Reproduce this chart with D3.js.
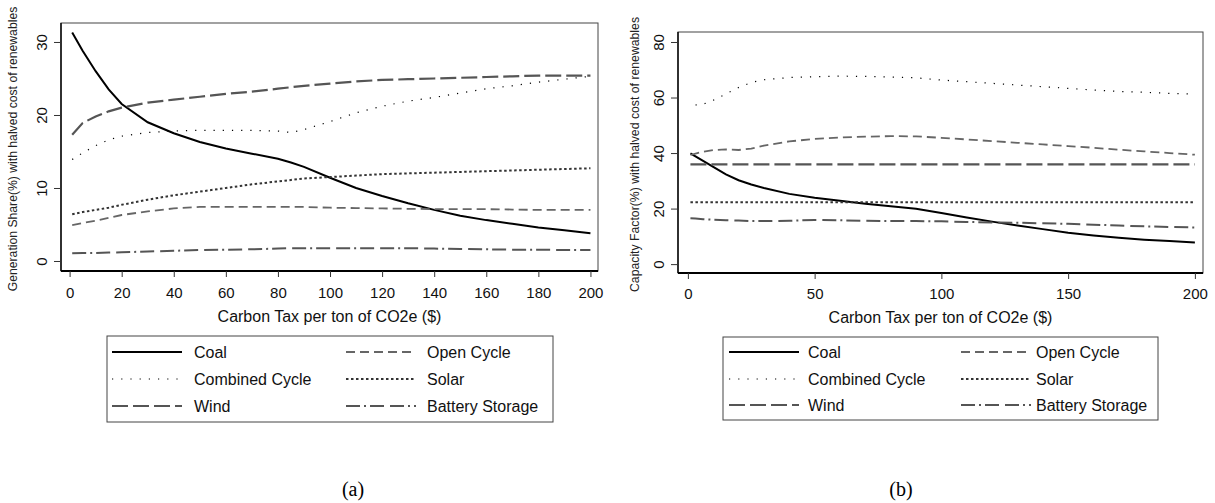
<!DOCTYPE html>
<html>
<head>
<meta charset="utf-8">
<script src="https://cdn.jsdelivr.net/npm/d3@7"></script>
<style>
  body { margin: 0; background: #fff; }
  svg { display: block; font-family: "Liberation Sans", Arial, sans-serif; }
</style>
</head>
<body>
<svg id="chart" width="1215" height="503"></svg>
<script>
// ---- data ----
var taxA = [1, 5, 10, 15, 20, 30, 40, 50, 60, 70, 80, 85, 90, 100, 110, 120, 130, 140, 150, 160, 170, 180, 190, 200];
var coalA     = [31.3, 28.8, 26.0, 23.5, 21.5, 19.0, 17.5, 16.3, 15.4, 14.7, 14.0, 13.5, 12.9, 11.4, 10.0, 8.9, 7.9, 7.0, 6.2, 5.6, 5.1, 4.6, 4.2, 3.8];
var openA     = [4.9, 5.2, 5.5, 5.9, 6.3, 6.8, 7.2, 7.4, 7.4, 7.4, 7.4, 7.4, 7.4, 7.3, 7.25, 7.2, 7.15, 7.1, 7.1, 7.1, 7.05, 7.0, 7.0, 7.0];
var combinedA = [13.9, 14.8, 15.8, 16.6, 17.1, 17.6, 17.8, 17.9, 17.9, 17.9, 17.8, 17.6, 18.0, 19.1, 20.3, 21.2, 21.9, 22.4, 23.0, 23.6, 24.0, 24.5, 24.9, 25.3];
var solarA    = [6.4, 6.7, 7.0, 7.3, 7.7, 8.4, 9.0, 9.5, 10.0, 10.5, 10.9, 11.1, 11.3, 11.5, 11.7, 11.9, 12.0, 12.1, 12.2, 12.3, 12.4, 12.5, 12.6, 12.7];
var windA     = [17.3, 18.9, 19.8, 20.5, 21.0, 21.7, 22.1, 22.5, 22.9, 23.2, 23.6, 23.8, 24.0, 24.3, 24.6, 24.8, 24.9, 25.0, 25.1, 25.2, 25.3, 25.4, 25.4, 25.4];
var batteryA  = [1.05, 1.1, 1.1, 1.15, 1.2, 1.3, 1.4, 1.5, 1.55, 1.6, 1.7, 1.75, 1.75, 1.75, 1.75, 1.75, 1.75, 1.7, 1.65, 1.6, 1.55, 1.55, 1.5, 1.5];

var taxB = [1, 3, 6, 10, 15, 20, 25, 30, 40, 50, 60, 70, 80, 90, 100, 110, 120, 130, 140, 150, 160, 170, 180, 190, 200];
var coalB     = [39.9, 38.8, 37.2, 35.0, 32.3, 30.2, 28.7, 27.4, 25.3, 23.9, 22.8, 21.7, 20.8, 19.9, 18.4, 16.8, 15.3, 13.9, 12.6, 11.3, 10.3, 9.5, 8.8, 8.3, 7.8];
var openB     = [39.3, 39.8, 40.5, 41.1, 41.3, 41.1, 41.6, 42.7, 44.2, 45.1, 45.6, 45.9, 46.1, 46.0, 45.5, 44.9, 44.3, 43.7, 43.1, 42.5, 41.9, 41.2, 40.6, 40.0, 39.4];
var combinedB = [null, 57.3, 57.6, 59.0, 61.3, 63.6, 65.4, 66.4, 67.2, 67.5, 67.7, 67.6, 67.4, 67.1, 66.3, 65.7, 65.1, 64.5, 63.9, 63.3, 62.7, 62.2, 61.9, 61.5, 61.2];
var solarB    = [22.3, 22.3, 22.3, 22.3, 22.3, 22.3, 22.3, 22.3, 22.3, 22.3, 22.3, 22.3, 22.3, 22.3, 22.3, 22.3, 22.3, 22.3, 22.3, 22.3, 22.3, 22.3, 22.3, 22.3, 22.3];
var windB     = [35.9, 35.9, 35.9, 35.9, 35.9, 35.9, 35.9, 35.9, 35.9, 35.9, 35.9, 35.9, 35.9, 35.9, 35.9, 35.9, 35.9, 35.9, 35.9, 35.9, 35.9, 35.9, 35.9, 35.9, 35.9];
var batteryB  = [16.5, 16.4, 16.2, 16.0, 15.8, 15.7, 15.5, 15.5, 15.6, 15.9, 15.8, 15.6, 15.5, 15.5, 15.4, 15.2, 15.0, 14.9, 14.7, 14.5, 14.2, 13.9, 13.6, 13.4, 13.2];

var seriesNames = ["Coal", "Open Cycle", "Combined Cycle", "Solar", "Wind", "Battery Storage"];
var xTicksA = [0, 20, 40, 60, 80, 100, 120, 140, 160, 180, 200];
var yTicksA = [0, 10, 20, 30];
var xTicksB = [0, 50, 100, 150, 200];
var yTicksB = [0, 20, 40, 60, 80];

// line looks, same order as seriesNames
var styles = [
  {stroke: "#000", width: 2,   dash: null},
  {stroke: "#666", width: 1.8, dash: "9,5"},
  {stroke: "#000", width: 1.2, dash: "1.2,8"},
  {stroke: "#333", width: 2,   dash: "2.5,2.5"},
  {stroke: "#555", width: 2.2, dash: "16,5"},
  {stroke: "#555", width: 2,   dash: "14,4,2,4,14,6"}
];

var svg = d3.select("#chart");

var panels = [
  {
    tax: taxA, values: [coalA, openA, combinedA, solarA, windA, batteryA],
    box: {x0: 61, x1: 598, y0: 23, y1: 271},
    xDom: [-3.3, 202.9], yDom: [-1.37, 32.6],
    xTicks: xTicksA, yTicks: yTicksA,
    yTitle: "Generation Share(%) with halved cost of renewables", yTitleX: 13, yTitleSize: 12.2,
    tickY: 26.5, titleY: 322,
    legend: {x0: 107, x1: 553, y0: 336, y1: 422, s1: 112, t1: 194, s2: 346, t2: 427, rows: [352, 379, 406]},
    tag: "(a)", tagX: 353
  },
  {
    tax: taxB, values: [coalB, openB, combinedB, solarB, windB, batteryB],
    box: {x0: 678, x1: 1203, y0: 32, y1: 273},
    xDom: [-3.9, 203.2], yDom: [-3.2, 83.6],
    xTicks: xTicksB, yTicks: yTicksB,
    yTitle: "Capacity Factor(%) with halved cost of renewables", yTitleX: 635, yTitleSize: 12.25,
    tickY: 25.5, titleY: 323,
    legend: {x0: 723, x1: 1158, y0: 337, y1: 420, s1: 729, t1: 808, s2: 961, t2: 1036, rows: [352, 379, 405]},
    tag: "(b)", tagX: 901
  }
];

panels.forEach(function(p) {
  var b = p.box;
  var sx = d3.scaleLinear().domain(p.xDom).range([b.x0, b.x1]);
  var sy = d3.scaleLinear().domain(p.yDom).range([b.y1, b.y0]);

  // plot frame
  svg.append("rect")
    .attr("x", b.x0).attr("y", b.y0)
    .attr("width", b.x1 - b.x0).attr("height", b.y1 - b.y0)
    .attr("fill", "none").attr("stroke", "#444").attr("stroke-width", 1);

  // lines
  var line = d3.line()
    .defined(function(d) { return d[1] != null; })
    .x(function(d) { return sx(d[0]); })
    .y(function(d) { return sy(d[1]); });

  p.values.forEach(function(vals, i) {
    var st = styles[i];
    var pts = p.tax.map(function(t, j) { return [t, vals[j]]; });
    svg.append("path")
      .datum(pts)
      .attr("fill", "none")
      .attr("stroke", st.stroke)
      .attr("stroke-width", st.width)
      .attr("stroke-dasharray", st.dash)
      .attr("d", line);
  });

  // x axis
  var gx = svg.append("g")
    .attr("transform", "translate(0," + b.y1 + ")")
    .call(d3.axisBottom(sx).tickValues(p.xTicks).tickSize(6).tickFormat(d3.format("d")));
  gx.select(".domain").attr("stroke", "#000").attr("stroke-width", 2.2)
    .attr("d", "M" + b.x0 + ",0H" + b.x1);
  gx.selectAll(".tick line").attr("stroke", "#333");
  gx.selectAll(".tick text")
    .attr("y", p.tickY).attr("dy", null)
    .attr("font-size", 15).attr("fill", "#111");

  // y axis
  var gy = svg.append("g")
    .attr("transform", "translate(" + b.x0 + ",0)")
    .call(d3.axisLeft(sy).tickValues(p.yTicks).tickSize(7).tickFormat(d3.format("d")));
  gy.select(".domain").attr("stroke", "#000").attr("stroke-width", 1.4)
    .attr("d", "M0," + b.y0 + "V" + b.y1);
  gy.selectAll(".tick line").attr("stroke", "#333");
  gy.selectAll(".tick text")
    .attr("x", null).attr("dy", null)
    .attr("text-anchor", "middle")
    .attr("font-size", 15).attr("fill", "#111")
    .attr("transform", "translate(-14.5,0) rotate(-90)");

  // axis titles
  svg.append("text")
    .attr("x", (b.x0 + b.x1) / 2).attr("y", p.titleY)
    .attr("text-anchor", "middle").attr("font-size", 16).attr("fill", "#111")
    .text("Carbon Tax per ton of CO2e ($)");

  svg.append("text")
    .attr("transform", "translate(" + p.yTitleX + "," + ((b.y0 + b.y1) / 2 + 2) + ") rotate(-90)")
    .attr("text-anchor", "middle").attr("dy", "0.35em")
    .attr("font-size", p.yTitleSize).attr("fill", "#222")
    .text(p.yTitle);

  // legend
  var L = p.legend;
  svg.append("rect")
    .attr("x", L.x0).attr("y", L.y0)
    .attr("width", L.x1 - L.x0).attr("height", L.y1 - L.y0)
    .attr("fill", "#fff").attr("stroke", "#444").attr("stroke-width", 1);

  seriesNames.forEach(function(name, i) {
    var st = styles[i];
    var col = i % 2, row = Math.floor(i / 2);
    var sxs = col === 0 ? L.s1 : L.s2;
    var tx = col === 0 ? L.t1 : L.t2;
    var ry = L.rows[row];
    svg.append("line")
      .attr("x1", sxs).attr("x2", sxs + 70)
      .attr("y1", ry).attr("y2", ry)
      .attr("stroke", st.stroke).attr("stroke-width", st.width)
      .attr("stroke-dasharray", st.dash);
    svg.append("text")
      .attr("x", tx).attr("y", ry + 5.5)
      .attr("font-size", 16).attr("fill", "#111")
      .text(name);
  });

  // panel tag
  svg.append("text")
    .attr("x", p.tagX).attr("y", 496)
    .attr("text-anchor", "middle")
    .attr("font-family", "'Liberation Serif', 'Times New Roman', serif")
    .attr("font-size", 20).attr("fill", "#000")
    .text(p.tag);
});
</script>
</body>
</html>
